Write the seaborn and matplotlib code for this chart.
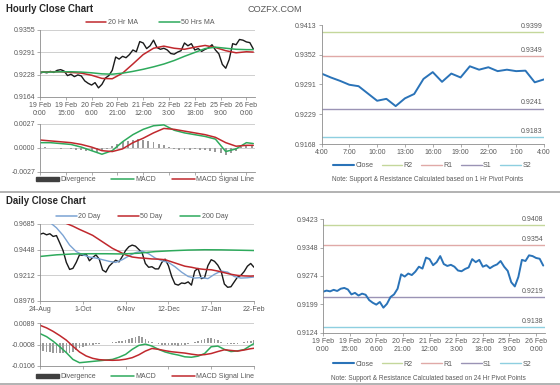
import numpy as np
import pandas as pd
import seaborn as sns
import matplotlib.pyplot as plt
from matplotlib.patches import Patch
from matplotlib.lines import Line2D

sns.set_theme(style="white")
plt.rcParams['font.family'] = ['Liberation Sans', 'DejaVu Sans']

# ---------------- hourly data ----------------
hour_ticks = [0, 15, 30, 45, 60, 75, 90, 105, 120]
hour_labels = ['19 Feb\n0:00', '19 Feb\n15:00', '20 Feb\n6:00', '20 Feb\n21:00',
               '21 Feb\n12:00', '22 Feb\n3:00', '22 Feb\n18:00', '25 Feb\n9:00', '26 Feb\n0:00']

hourly_hours = list(range(0, 125, 2))
hourly_close = [0.9232, 0.9235, 0.9233, 0.9237, 0.9234, 0.9240, 0.9242, 0.9238, 0.9225, 0.9229,
                0.9222, 0.9227, 0.9224, 0.9210, 0.9203, 0.9198, 0.9205, 0.9190, 0.9200, 0.9218,
                0.9225, 0.9240, 0.9278, 0.9272, 0.9280, 0.9276, 0.9285, 0.9298, 0.9293, 0.9322,
                0.9318, 0.9302, 0.9310, 0.9326, 0.9305, 0.9300, 0.9303, 0.9298, 0.9288, 0.9286,
                0.9292, 0.9296, 0.9318, 0.9310, 0.9316, 0.9298, 0.9302, 0.9294, 0.9300, 0.9304,
                0.9313, 0.9298, 0.9287, 0.9257, 0.9246, 0.9271, 0.9316, 0.9313, 0.9328, 0.9326,
                0.9321, 0.9319, 0.9301]

ma_hours = [0, 6, 12, 18, 24, 30, 36, 42, 48, 54, 60, 66, 72, 78, 84, 90, 96, 102, 108, 114, 120, 124]
ma20_hr = [0.9235, 0.9236, 0.9236, 0.9234, 0.9232, 0.9226, 0.9217, 0.9216, 0.9232, 0.9258, 0.9285,
           0.9303, 0.9309, 0.9303, 0.9300, 0.9306, 0.9311, 0.9305, 0.9296, 0.9290, 0.9293, 0.9292]
ma50_hr = [0.9235, 0.9235, 0.9236, 0.9236, 0.9235, 0.9233, 0.9230, 0.9229, 0.9232, 0.9237, 0.9243,
           0.9250, 0.9258, 0.9268, 0.9280, 0.9291, 0.9302, 0.9306, 0.9303, 0.9300, 0.9299, 0.9299]

macd_hr = [0.0006, 0.0006, 0.0005, 0.0004, 0.0001, -0.0003, -0.0007, -0.0003, 0.0007, 0.0015, 0.0021,
           0.0025, 0.0026, 0.0020, 0.0017, 0.0015, 0.0013, 0.0010, -0.0004, -0.0001, 0.0006, 0.0005]
signal_hr = [0.0009, 0.0008, 0.0007, 0.0006, 0.0004, 0.0001, -0.0003, -0.0004, -0.0001, 0.0006, 0.0011,
             0.0017, 0.0022, 0.0021, 0.0019, 0.0017, 0.0015, 0.0012, 0.0006, 0.0002, 0.0003, 0.0003]
div_hours = list(range(0, 124, 3))
div_hr = [0.0001, 0.0001, 0.0000, 0.0000, -0.0001, 0.0000, -0.0001, -0.0002, -0.0002, -0.0003,
          -0.0003, -0.0004, -0.0003, -0.0001, 0.0002, 0.0005, 0.0007, 0.0008, 0.0009, 0.0010,
          0.0009, 0.0008, 0.0007, 0.0005, 0.0003, 0.0001, -0.0001, -0.0002, -0.0002, -0.0002,
          -0.0001, -0.0002, -0.0002, -0.0003, -0.0004, -0.0006, -0.0008, -0.0006, -0.0003, 0.0001,
          0.0003, 0.0002]

# last 24 hours, 1 hr pivots
pivot1_labels = ['4:00', '7:00', '10:00', '13:00', '16:00', '19:00', '22:00', '1:00', '4:00']
pivot1_hours = list(range(0, 25))
pivot1_close = [0.9313, 0.9305, 0.9298, 0.9290, 0.9287, 0.9272, 0.9257, 0.9261, 0.9246, 0.9262,
                0.9271, 0.9302, 0.9316, 0.9296, 0.9313, 0.9305, 0.9328, 0.9321, 0.9326, 0.9318,
                0.9321, 0.9318, 0.9319, 0.9295, 0.9301]
pivot1_levels = {'R2': 0.9399, 'R1': 0.9349, 'S1': 0.9241, 'S2': 0.9183}

# ---------------- daily data ----------------
day_ticks = [0, 26, 52, 78, 104, 130]
day_labels = ['24-Aug', '1-Oct', '6-Nov', '12-Dec', '17-Jan', '22-Feb']

daily_idx = list(range(0, 131, 2))
daily_close = [0.9590, 0.9600, 0.9585, 0.9595, 0.9570, 0.9578, 0.9510, 0.9440, 0.9330, 0.9265,
               0.9275, 0.9330, 0.9400, 0.9395, 0.9410, 0.9345, 0.9375, 0.9400, 0.9360, 0.9260,
               0.9240, 0.9295, 0.9325, 0.9350, 0.9335, 0.9385, 0.9440, 0.9475, 0.9490, 0.9480,
               0.9450, 0.9420, 0.9320, 0.9285, 0.9290, 0.9270, 0.9270, 0.9330, 0.9360, 0.9300,
               0.9200, 0.9130, 0.9120, 0.9140, 0.9135, 0.9150, 0.9120, 0.9250, 0.9275, 0.9180,
               0.9190, 0.9300, 0.9355, 0.9340, 0.9305, 0.9250, 0.9130, 0.9100, 0.9105, 0.9150,
               0.9195, 0.9210, 0.9245, 0.9295, 0.9320, 0.9285]

ma20_idx = list(range(6, 131, 4))
ma20_day = [0.9700, 0.9650, 0.9580, 0.9490, 0.9430, 0.9400, 0.9380, 0.9370, 0.9355, 0.9340,
            0.9330, 0.9355, 0.9390, 0.9420, 0.9435, 0.9410, 0.9370, 0.9345, 0.9330, 0.9290,
            0.9240, 0.9200, 0.9185, 0.9190, 0.9180, 0.9220, 0.9250, 0.9240, 0.9200, 0.9185,
            0.9188, 0.9195]
ma50_idx = list(range(16, 129, 4)) + [130]
ma50_day = [0.9690, 0.9665, 0.9635, 0.9608, 0.9580, 0.9540, 0.9500, 0.9460, 0.9430, 0.9400,
            0.9380, 0.9372, 0.9368, 0.9362, 0.9360, 0.9355, 0.9335, 0.9315, 0.9295, 0.9285,
            0.9272, 0.9265, 0.9262, 0.9250, 0.9235, 0.9220, 0.9210, 0.9205, 0.9203, 0.9205]
ma200_idx = list(range(0, 131, 10))
ma200_day = [0.9385, 0.9400, 0.9408, 0.9410, 0.9410, 0.9408, 0.9415, 0.9430, 0.9438, 0.9444,
             0.9447, 0.9446, 0.9443, 0.9440]

macd_idx = list(range(0, 129, 4)) + [130]
macd_day = [0.0042, 0.0028, 0.0007, -0.0018, -0.0045, -0.0076, -0.0091, -0.0088, -0.0085, -0.0082,
            -0.0079, -0.0076, -0.0066, -0.0053, -0.0030, -0.0012, -0.0006, -0.0015, -0.0030, -0.0042,
            -0.0050, -0.0056, -0.0064, -0.0066, -0.0061, -0.0049, -0.0018, -0.0015, -0.0030, -0.0040,
            -0.0037, -0.0031, -0.0012, -0.0004]
signal_day = [0.0080, 0.0068, 0.0052, 0.0033, 0.0012, -0.0016, -0.0042, -0.0060, -0.0071, -0.0077,
              -0.0079, -0.0080, -0.0079, -0.0075, -0.0068, -0.0055, -0.0038, -0.0026, -0.0030, -0.0036,
              -0.0041, -0.0044, -0.0047, -0.0052, -0.0056, -0.0054, -0.0049, -0.0040, -0.0032, -0.0035,
              -0.0038, -0.0033, -0.0027, -0.0025]
div_day = [-0.0035, -0.0038, -0.0040, -0.0042, -0.0045, -0.0046, -0.0047, -0.0048, -0.0047, -0.0045,
           -0.0040, -0.0033, -0.0025, -0.0018, -0.0013, -0.0010, -0.0008, -0.0006, -0.0004, -0.0003,
           -0.0002, 0.0000, 0.0002, 0.0004, 0.0006, 0.0009, 0.0013, 0.0018, 0.0023, 0.0028,
           0.0030, 0.0027, 0.0018, 0.0008, 0.0002, -0.0002, -0.0005, -0.0008, -0.0010, -0.0011,
           -0.0012, -0.0012, -0.0013, -0.0012, -0.0010, -0.0006, -0.0002, 0.0003, 0.0008, 0.0014,
           0.0019, 0.0022, 0.0022, 0.0018, 0.0012, 0.0004, -0.0002, -0.0006, -0.0007, -0.0006,
           -0.0004, -0.0001, 0.0002, 0.0006, 0.0010, 0.0013]

pivot24_levels = {'R2': 0.9408, 'R1': 0.9354, 'S1': 0.9219, 'S2': 0.9138}

# ---------------- styling ----------------
TXT = '#595959'
AX = '#8c8c8c'
GRID = '#c8c8c8'
RED = '#c0282d'
GREEN = '#2eaa5c'
BLUE20 = '#7ba3d3'
CLOSE_BLUE = '#2a73b8'
DIVC = '#9a9a9a'
LEVEL_COLORS = {'R2': '#c4d79b', 'R1': '#e0a9a7', 'S1': '#9a93b5', 'S2': '#8ecfe0'}
FS = 5


def px_axes(fig, x0, y0, x1, y1):
    W, H = 560, 385
    return fig.add_axes([x0 / W, 1 - y1 / H, (x1 - x0) / W, (y1 - y0) / H])


def style_axes(ax, grid=True):
    for s in ['top', 'right']:
        ax.spines[s].set_visible(False)
    for s in ['left', 'bottom']:
        ax.spines[s].set_color(AX)
        ax.spines[s].set_linewidth(0.6)
    ax.tick_params(axis='both', labelsize=FS, colors=AX, labelcolor=TXT,
                   length=2, width=0.5, pad=1.5, direction='out')
    ax.tick_params(axis='both', which='both', bottom=True, left=True)
    if grid:
        ax.yaxis.grid(True, color=GRID, linewidth=0.6)
        ax.set_axisbelow(True)
    ax.set_xlabel('')
    ax.set_ylabel('')


fig = plt.figure(figsize=(5.6, 3.85), dpi=100)
fig.patch.set_facecolor('white')

# titles
fig.text(6 / 560, 1 - 9 / 385, 'Hourly Close Chart', fontsize=6.9, fontweight='bold',
         color='#262626', va='center', ha='left')
fig.text(247 / 560, 1 - 10 / 385, 'COZFX.COM', fontsize=6.6, color=TXT, va='center', ha='left')
fig.text(6 / 560, 1 - 201 / 385, 'Daily Close Chart', fontsize=6.9, fontweight='bold',
         color='#262626', va='center', ha='left')
fig.add_artist(Line2D([0, 1], [1 - 192 / 385, 1 - 192 / 385], color='#a6a6a6', lw=1.2))
fig.add_artist(Line2D([0, 1], [1 - 383.5 / 385, 1 - 383.5 / 385], color='#a6a6a6', lw=1.2))

# ---- hourly price ----
ax1 = px_axes(fig, 40, 30, 255, 97)
sns.lineplot(x=hourly_hours, y=hourly_close, ax=ax1, color='#1a1a1a', linewidth=1.0)
sns.lineplot(x=ma_hours, y=ma20_hr, ax=ax1, color=RED, linewidth=1.1)
sns.lineplot(x=ma_hours, y=ma50_hr, ax=ax1, color=GREEN, linewidth=1.1)
ax1.set_xlim(0, 125)
ax1.set_ylim(0.9164, 0.9355)
ax1.set_yticks([0.9164, 0.9228, 0.9291, 0.9355])
ax1.set_yticklabels(['0.9164', '0.9228', '0.9291', '0.9355'])
ax1.set_xticks(hour_ticks)
ax1.set_xticklabels(hour_labels, linespacing=1.3)
style_axes(ax1)
ax1.legend(handles=[Line2D([], [], color=RED, lw=1.1, label='20 Hr MA'),
                    Line2D([], [], color=GREEN, lw=1.1, label='50 Hrs MA')],
           loc='center', bbox_to_anchor=(150 / 560, 1 - 23 / 385), bbox_transform=fig.transFigure,
           ncol=2, frameon=False, fontsize=FS, handlelength=3, columnspacing=3, handletextpad=0.2,
           labelcolor=TXT)

# ---- hourly MACD ----
ax2 = px_axes(fig, 40, 124, 255, 172)
ax2.bar(div_hours, div_hr, width=1.1, color=DIVC, linewidth=0)
sns.lineplot(x=ma_hours, y=macd_hr, ax=ax2, color=GREEN, linewidth=1.1)
sns.lineplot(x=ma_hours, y=signal_hr, ax=ax2, color=RED, linewidth=1.1)
ax2.set_xlim(0, 125)
ax2.set_ylim(-0.0027, 0.0027)
ax2.set_yticks([-0.0027, 0.0, 0.0027])
ax2.set_yticklabels(['-0.0027', '0.0000', '0.0027'])
ax2.set_xticks(hour_ticks)
ax2.set_xticklabels([])
style_axes(ax2)
ax2.legend(handles=[Patch(color='#404040', label='Divergence'),
                    Line2D([], [], color=GREEN, lw=1.1, label='MACD'),
                    Line2D([], [], color=RED, lw=1.1, label='MACD Signal Line')],
           loc='center', bbox_to_anchor=(145 / 560, 1 - 180 / 385), bbox_transform=fig.transFigure,
           ncol=3, frameon=False, fontsize=FS, handlelength=3.3, handleheight=0.6,
           columnspacing=2.2, handletextpad=0.2, labelcolor=TXT)


def pivot_panel(ax, x, y, levels, xlim, ylim, yticks, xticks, xlabels, note, legend_y, note_y):
    for name, val in levels.items():
        ax.axhline(val, color=LEVEL_COLORS[name], lw=1.0)
        ax.annotate(f'{val:.4f}', xy=(1, val), xycoords=('axes fraction', 'data'),
                    xytext=(-1, 1.5), textcoords='offset points', ha='right', va='bottom',
                    fontsize=FS, color=TXT)
    sns.lineplot(x=x, y=y, ax=ax, color=CLOSE_BLUE, linewidth=1.4)
    ax.set_xlim(*xlim)
    ax.set_ylim(*ylim)
    ax.set_yticks(yticks)
    ax.set_yticklabels([f'{v:.4f}' for v in yticks])
    ax.set_xticks(xticks)
    ax.set_xticklabels(xlabels, linespacing=1.3)
    style_axes(ax, grid=False)
    handles = [Line2D([], [], color=CLOSE_BLUE, lw=1.5, label='Close')]
    handles += [Line2D([], [], color=LEVEL_COLORS[k], lw=1.0, label=k) for k in levels]
    ax.legend(handles=handles, loc='center', bbox_to_anchor=(432 / 560, 1 - legend_y / 385),
              bbox_transform=fig.transFigure, ncol=5, frameon=False, fontsize=FS,
              handlelength=3, columnspacing=1.2, handletextpad=0.2, labelcolor=TXT)
    fig.text(428 / 560, 1 - note_y / 385, note, fontsize=4.7, color=TXT, ha='center', va='center')


# ---- hourly pivot chart ----
ax3 = px_axes(fig, 321.5, 25, 544, 144)
pivot_panel(ax3, pivot1_hours, pivot1_close, pivot1_levels, (0, 24), (0.9168, 0.9413),
            [0.9168, 0.9229, 0.9291, 0.9352, 0.9413], list(range(0, 25, 3)), pivot1_labels,
            'Note: Support & Resistance Calculated based on 1 Hr Pivot Points', 166, 179)

# ---- daily price ----
ax4 = px_axes(fig, 40, 224, 254, 300.7)
sns.lineplot(x=daily_idx, y=daily_close, ax=ax4, color='#1a1a1a', linewidth=1.0)
sns.lineplot(x=ma20_idx, y=ma20_day, ax=ax4, color=BLUE20, linewidth=1.0)
sns.lineplot(x=ma50_idx, y=ma50_day, ax=ax4, color=RED, linewidth=1.1)
sns.lineplot(x=ma200_idx, y=ma200_day, ax=ax4, color=GREEN, linewidth=1.1)
ax4.set_xlim(0, 130)
ax4.set_ylim(0.8976, 0.9685)
ax4.set_yticks([0.8976, 0.9212, 0.9448, 0.9685])
ax4.set_yticklabels(['0.8976', '0.9212', '0.9448', '0.9685'])
ax4.set_xticks(day_ticks)
ax4.set_xticklabels(day_labels)
style_axes(ax4)
ax4.legend(handles=[Line2D([], [], color=BLUE20, lw=1.1, label='20 Day'),
                    Line2D([], [], color=RED, lw=1.1, label='50 Day'),
                    Line2D([], [], color=GREEN, lw=1.1, label='200 Day')],
           loc='center', bbox_to_anchor=(142 / 560, 1 - 217 / 385), bbox_transform=fig.transFigure,
           ncol=3, frameon=False, fontsize=FS, handlelength=3, columnspacing=2.5, handletextpad=0.2,
           labelcolor=TXT)

# ---- daily MACD ----
ax5 = px_axes(fig, 40, 323.3, 254, 366)
ax5.bar(daily_idx, div_day, width=1.0, color=DIVC, linewidth=0)
sns.lineplot(x=macd_idx, y=macd_day, ax=ax5, color=GREEN, linewidth=1.1)
sns.lineplot(x=macd_idx, y=signal_day, ax=ax5, color=RED, linewidth=1.1)
ax5.set_xlim(0, 130)
ax5.set_ylim(-0.0106, 0.0089)
ax5.set_yticks([-0.0106, -0.0008, 0.0089])
ax5.set_yticklabels(['-0.0106', '-0.0008', '0.0089'])
ax5.set_xticks(day_ticks)
ax5.set_xticklabels([])
style_axes(ax5)
ax5.legend(handles=[Patch(color='#404040', label='Divergence'),
                    Line2D([], [], color=GREEN, lw=1.1, label='MACD'),
                    Line2D([], [], color=RED, lw=1.1, label='MACD Signal Line')],
           loc='center', bbox_to_anchor=(145 / 560, 1 - 377 / 385), bbox_transform=fig.transFigure,
           ncol=3, frameon=False, fontsize=FS, handlelength=3.3, handleheight=0.6,
           columnspacing=2.2, handletextpad=0.2, labelcolor=TXT)

# ---- 24 hr pivot chart ----
ax6 = px_axes(fig, 323, 219.3, 545, 332.7)
pivot_panel(ax6, hourly_hours, hourly_close, pivot24_levels, (0, 125), (0.9124, 0.9423),
            [0.9124, 0.9199, 0.9274, 0.9348, 0.9423], hour_ticks, hour_labels,
            'Note: Support & Resistance Calculated based on 24 Hr Pivot Points', 364, 378)

fig.savefig('out.png', dpi=100, facecolor='white')
